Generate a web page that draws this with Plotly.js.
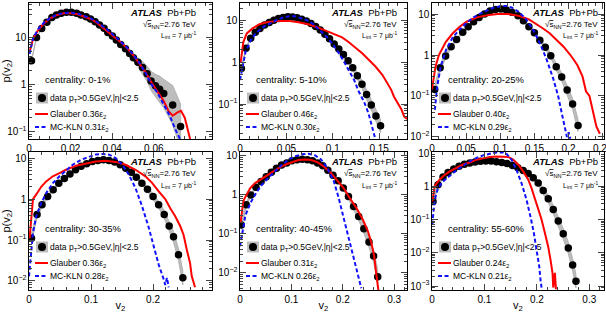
<!DOCTYPE html>
<html><head><meta charset="utf-8">
<script src="https://cdn.plot.ly/plotly-3.0.1.min.js"></script>
<style>html,body{margin:0;padding:0;background:#fff}#chart{width:606px;height:313px}</style>
</head><body><div id="chart"></div><script>
// ---------- centrality 0-1% ----------
const P1_v2 = [0.0012,0.0036,0.0061,0.0086,0.011,0.0132,0.0155,0.018,0.0204,0.0229,0.025,0.0275,0.0296,0.0318,0.0339,0.0361,0.0379,0.0401,0.042,0.0441,0.0464,0.0484,0.0502,0.0524,0.0546,0.0568,0.0587,0.0608,0.0628,0.0648,0.0691,0.0729];
const P1_p  = [3.2,10,15.5,21,26.5,30,32.5,34,34,32.7,30,27.5,24.7,21.6,18.4,15.6,12.8,10.7,8.8,7.1,5.8,4.6,3.7,3.0,2.3,1.7,1.2,0.95,0.8,0.65,0.37,0.13];
const P1_err = [0.02,0.02,0.02,0.02,0.02,0.02,0.02,0.02,0.02,0.02,0.02,0.02,0.02,0.02,0.02,0.02,0.02,0.02,0.03,0.05,0.08,0.12,0.18,0.25,0.35,0.45,0.6,0.75,0.9,1.0,1.6,2.0];
const P1_glauberX = [0.0003,0.002,0.0044,0.0069,0.0102,0.0135,0.0168,0.02,0.0234,0.0267,0.03,0.0329,0.0357,0.0386,0.0414,0.0444,0.0473,0.0502,0.0531,0.056,0.059,0.0617,0.0648,0.067,0.0691,0.0714,0.0731,0.0749,0.0763,0.0775];
const P1_glauberY = [4.9,9.5,14.4,19.3,25.5,30,32.7,32.7,31,27.7,24.3,20,16,12.6,10,7.7,5.8,4.2,2.8,1.84,1.1,0.74,0.45,0.28,0.22,0.26,0.28,0.2,0.11,0.07];
const P1_klnX = [0.0003,0.002,0.0044,0.0069,0.0102,0.0135,0.0168,0.02,0.0234,0.0267,0.03,0.0329,0.0357,0.0386,0.0414,0.0444,0.0473,0.0502,0.0531,0.056,0.059,0.0617,0.0648,0.0677,0.0705,0.0727];
const P1_klnY = [4.5,9.8,15,20,26,30.5,33,33.5,32,28.5,25,21,17,13.5,10.5,8,6,4.3,2.9,1.8,1.0,0.68,0.39,0.22,0.11,0.07];

// ---------- centrality 5-10% ----------
const P2_v2 = [0.0015,0.0065,0.0115,0.0165,0.0215,0.0265,0.0315,0.0365,0.0415,0.0465,0.0515,0.0565,0.0615,0.0665,0.0715,0.0765,0.0815,0.0865,0.0915,0.0965,0.1015,0.1065,0.1115,0.1165,0.1215,0.1265,0.1315,0.1365,0.1415,0.1465,0.1515];
const P2_p  = [0.72,2.2,3.8,5.3,6.6,8.0,9.2,10.4,11.4,12.1,12.5,12.4,11.9,11.0,9.9,8.6,7.3,6.0,4.8,3.7,2.8,2.1,1.55,1.1,0.75,0.48,0.3,0.17,0.095,0.052,0.03];
const P2_err = [0.15,0.06,0.03,0.03,0.03,0.03,0.03,0.03,0.03,0.03,0.03,0.03,0.03,0.03,0.03,0.03,0.03,0.03,0.04,0.04,0.05,0.08,0.1,0.13,0.16,0.2,0.25,0.3,0.35,0.4,0.45];
const P2_glauberX = [0.0007,0.0036,0.0073,0.0135,0.021,0.03,0.041,0.052,0.063,0.0735,0.0845,0.095,0.103,0.11,0.117,0.1245,0.132,0.139,0.146,0.1536,0.159,0.163,0.166,0.17,0.174,0.177,0.18];
const P2_glauberY = [1.0,3.1,5.0,6.6,8.3,9.4,10,10,9.3,8.3,6.9,5.5,4.7,4.0,3.1,2.3,1.65,1.15,0.8,0.5,0.32,0.22,0.15,0.105,0.074,0.05,0.044];
const P2_klnX = [0,0.0025,0.006,0.0116,0.017,0.024,0.032,0.039,0.046,0.0535,0.059,0.0645,0.072,0.079,0.086,0.0936,0.1008,0.108,0.115,0.123,0.128,0.1336,0.1385,0.141,0.1435,0.146];
const P2_klnY = [0.38,0.8,1.8,3.4,5.0,6.9,8.6,10.4,12,13,13,12,10.4,8.3,6.0,4.1,2.6,1.5,0.8,0.38,0.2,0.115,0.06,0.035,0.02,0.014];

// ---------- centrality 20-25% ----------
const P3_v2 = [0.004,0.012,0.020,0.028,0.036,0.045,0.053,0.061,0.069,0.077,0.085,0.093,0.101,0.109,0.117,0.126,0.134,0.142,0.150,0.158,0.166,0.174,0.182,0.190,0.198,0.206,0.214];
const P3_p  = [0.145,0.49,0.95,1.6,2.4,3.6,4.9,6.5,8.3,10,11.8,13,13.2,12.5,11,9.1,6.9,4.9,3.5,2.3,1.55,0.96,0.52,0.29,0.14,0.064,0.019];
const P3_err = [0.25,0.2,0.15,0.1,0.08,0.05,0.04,0.03,0.03,0.03,0.03,0.03,0.03,0.03,0.03,0.03,0.04,0.05,0.06,0.08,0.12,0.15,0.2,0.25,0.3,0.35,0.4];
const P3_glauberX = [0,0.0051,0.0101,0.0203,0.0304,0.0406,0.0507,0.0659,0.0811,0.0963,0.1115,0.1268,0.142,0.1521,0.1622,0.1724,0.1825,0.1927,0.2028,0.2129,0.2205,0.2256,0.2307,0.2357,0.2408,0.2459];
const P3_glauberY = [0.145,0.52,1.0,2.1,3.4,4.9,6.5,8.3,9.4,10,10,9.1,7.4,5.9,4.5,3.4,2.4,1.6,1.0,0.57,0.3,0.13,0.1,0.046,0.018,0.012];
const P3_klnX = [0.0041,0.0076,0.0127,0.0203,0.0304,0.0406,0.0507,0.0608,0.076,0.0913,0.1014,0.109,0.1166,0.1268,0.1369,0.147,0.1572,0.1673,0.1775,0.185,0.1901,0.1952,0.1977,0.2003,0.2028];
const P3_klnY = [0.046,0.17,0.52,1.3,2.7,4.2,6.1,8.3,11.4,14.5,15.7,15.7,14.5,11.4,7.8,4.5,2.1,0.83,0.27,0.097,0.038,0.015,0.01,0.013,0.009];

// ---------- centrality 30-35% ----------
const P4_v2 = [0.004,0.013,0.021,0.03,0.039,0.048,0.057,0.066,0.075,0.084,0.093,0.102,0.111,0.12,0.129,0.138,0.147,0.156,0.165,0.173,0.182,0.191,0.2,0.209,0.218,0.226,0.233,0.241,0.248];
const P4_p  = [0.11,0.42,0.73,1.16,1.7,2.45,3.2,4.1,5.2,6.3,7.3,8.3,8.8,9.1,8.8,8.0,6.9,5.7,4.5,3.4,2.45,1.75,1.16,0.73,0.42,0.22,0.12,0.044,0.012];
const P4_err = [0.3,0.2,0.15,0.1,0.07,0.05,0.04,0.03,0.03,0.03,0.03,0.03,0.03,0.03,0.03,0.03,0.04,0.05,0.06,0.08,0.1,0.13,0.16,0.2,0.25,0.3,0.35,0.4,0.5];
const P4_glauberX = [0.001,0.0037,0.0064,0.0117,0.0197,0.0277,0.0384,0.0491,0.0597,0.0757,0.0917,0.1077,0.1237,0.1397,0.1557,0.1717,0.1877,0.1984,0.2091,0.2197,0.2277,0.2357,0.2437,0.2491,0.2544,0.2597,0.2624,0.2651,0.2677];
const P4_glauberY = [0.11,0.38,1.0,1.3,2.0,2.7,3.6,4.3,5.2,6.5,7.5,8.3,8.6,8.1,6.9,5.2,3.6,2.5,1.55,1.0,0.6,0.38,0.22,0.135,0.058,0.027,0.013,0.009,0.007];
const P4_klnX = [0,0.0021,0.0064,0.0117,0.0197,0.0277,0.0384,0.0491,0.0597,0.0704,0.0837,0.0971,0.1077,0.1184,0.1291,0.1397,0.1504,0.1611,0.1717,0.1824,0.1931,0.2011,0.2091,0.2171,0.2197,0.2224,0.2251];
const P4_klnY = [0.013,0.033,0.15,0.38,0.8,1.4,2.45,3.6,5.0,6.9,9.1,11,12.3,12.7,12.2,10,6.9,3.9,1.85,0.66,0.2,0.07,0.025,0.011,0.008,0.012,0.007];

// ---------- centrality 40-45% ----------
const P5_v2 = [0.0025,0.012,0.021,0.031,0.041,0.051,0.061,0.071,0.081,0.091,0.101,0.111,0.121,0.131,0.141,0.151,0.161,0.171,0.181,0.191,0.201,0.211,0.221,0.231,0.241,0.251,0.26,0.268];
const P5_p  = [0.17,0.56,1.0,1.57,2.2,2.9,3.8,4.8,5.8,6.6,7.5,8.0,8.2,8.0,7.5,6.6,5.6,4.3,3.2,2.3,1.5,0.91,0.5,0.28,0.135,0.062,0.027,0.008];
const P5_err = [0.3,0.15,0.08,0.05,0.04,0.03,0.03,0.03,0.03,0.03,0.03,0.03,0.03,0.03,0.03,0.03,0.04,0.05,0.06,0.08,0.12,0.15,0.2,0.25,0.3,0.35,0.45,0.5];
const P5_glauberX = [0.0013,0.0063,0.0106,0.02,0.0294,0.0388,0.0513,0.0639,0.0764,0.0889,0.1014,0.114,0.1265,0.139,0.1515,0.1641,0.1766,0.1891,0.2016,0.2142,0.2267,0.2392,0.2486,0.2549,0.2611,0.2642,0.2674,0.2693];
const P5_glauberY = [0.2,0.68,0.9,1.5,2.0,2.4,3.0,3.9,5.0,6.0,7.0,7.8,8.1,7.8,6.8,5.2,3.7,2.4,1.5,0.8,0.46,0.23,0.12,0.065,0.027,0.012,0.0056,0.0036];
const P5_klnX = [0,0.0044,0.0106,0.02,0.0326,0.0451,0.0576,0.0701,0.0827,0.0952,0.1077,0.1202,0.1327,0.1453,0.1578,0.1703,0.1828,0.1922,0.2016,0.211,0.2204,0.2267,0.2329,0.2361];
const P5_klnY = [0.048,0.1,0.3,0.61,1.2,2.0,3.0,4.3,6.1,8.1,9.8,11,11.4,10.4,8.1,4.8,2.2,0.82,0.26,0.08,0.027,0.012,0.0056,0.004];

// ---------- centrality 55-60% ----------
const P6_v2 = [0.0019,0.0115,0.021,0.0306,0.0414,0.0516,0.0618,0.072,0.0822,0.0924,0.1025,0.1127,0.1229,0.1331,0.1433,0.1535,0.1637,0.1739,0.1834,0.193,0.2025,0.2121,0.2217,0.2312,0.2408,0.2503,0.2599,0.2682,0.2745];
const P6_p  = [0.35,1.1,1.9,2.6,3.3,4.0,4.6,5.0,5.4,5.6,5.7,5.7,5.5,5.2,4.8,4.2,3.6,3.0,2.4,1.8,1.25,0.75,0.42,0.2,0.09,0.037,0.014,0.0043,0.0014];
const P6_err = [0.3,0.15,0.08,0.05,0.04,0.03,0.03,0.03,0.03,0.03,0.03,0.03,0.03,0.03,0.04,0.05,0.06,0.08,0.1,0.15,0.2,0.25,0.3,0.35,0.4,0.45,0.5,0.55,0.6];
const P6_glauberX = [0.0006,0.0051,0.0115,0.021,0.0338,0.0465,0.0592,0.072,0.0847,0.0975,0.1102,0.1229,0.1357,0.1452,0.1548,0.1643,0.1739,0.1834,0.1898,0.1962,0.2025,0.2089,0.2153,0.2217,0.2261,0.2299,0.2312,0.2331,0.2344,0.2363];
const P6_glauberY = [0.35,1.0,1.4,2.0,2.8,3.5,4.5,5.2,6.3,6.9,7.6,7.9,7.9,7.6,6.3,4.5,2.8,1.6,0.88,0.44,0.22,0.1,0.039,0.015,0.006,0.0024,0.0009,0.0018,0.0025,0.0008];
const P6_klnX = [0.0006,0.0038,0.007,0.0115,0.021,0.0338,0.0465,0.0592,0.072,0.0847,0.0975,0.1102,0.1229,0.1357,0.142,0.1516,0.1611,0.1707,0.1803,0.1879,0.1943,0.1994,0.2045,0.207,0.2089];
const P6_klnY = [0.07,0.25,0.5,0.88,1.4,2.1,3.0,4.1,5.6,7.1,8.5,9.5,10.4,10.4,9.5,6.3,3.1,1.25,0.39,0.12,0.039,0.012,0.0039,0.0015,0.0009];

// ---------- labels ----------
const centralityLabels = ['centrality: 0-1%','centrality: 5-10%','centrality: 20-25%','centrality: 30-35%','centrality: 40-45%','centrality: 55-60%'];
const glauberCoef = ['0.36','0.46','0.40','0.36','0.31','0.24'];
const klnCoef = ['0.31','0.30','0.29','0.28','0.26','0.21'];
const xTicks = [[0,0.02,0.04,0.06],[0,0.05,0.1,0.15],[0,0.05,0.1,0.15,0.2,0.25],[0,0.1,0.2],[0,0.1,0.2,0.3],[0,0.1,0.2,0.3]];

// ---------- layout geometry (pixels) ----------
const W = 606, H = 313;
const FONT = 'Liberation Sans, Arial, Helvetica, sans-serif';
const cols = [{l:29, r:212}, {l:240, r:407}, {l:432, r:604}];
const rows = [{t:3, b:139}, {t:152, b:290}];
const xRanges = [[0,0.088],[0,0.18],[0,0.252],[0,0.295],[0,0.325],[0,0.328]];
const yRanges = [[-1.15,1.73],[-1.84,1.43],[-2.05,1.27],[-2.22,1.15],[-2.44,1.10],[-3.12,1.03]];
const xMinor = [0.005,0.01,0.01,0.02,0.02,0.02];
const textRight = [198, 399, 600];

const panels = [
  {x:P1_v2,y:P1_p,e:P1_err,gx:P1_glauberX,gy:P1_glauberY,kx:P1_klnX,ky:P1_klnY},
  {x:P2_v2,y:P2_p,e:P2_err,gx:P2_glauberX,gy:P2_glauberY,kx:P2_klnX,ky:P2_klnY},
  {x:P3_v2,y:P3_p,e:P3_err,gx:P3_glauberX,gy:P3_glauberY,kx:P3_klnX,ky:P3_klnY},
  {x:P4_v2,y:P4_p,e:P4_err,gx:P4_glauberX,gy:P4_glauberY,kx:P4_klnX,ky:P4_klnY},
  {x:P5_v2,y:P5_p,e:P5_err,gx:P5_glauberX,gy:P5_glauberY,kx:P5_klnX,ky:P5_klnY},
  {x:P6_v2,y:P6_p,e:P6_err,gx:P6_glauberX,gy:P6_glauberY,kx:P6_klnX,ky:P6_klnY}
];

const px = v => v / W;
const py = v => 1 - v / H;

const traces = [];
const layout = {
  width: W, height: H, margin: {l:0, r:0, t:0, b:0},
  paper_bgcolor: 'white', plot_bgcolor: 'white',
  showlegend: false, font: {family: FONT, color: 'black', size: 10},
  annotations: [], shapes: []
};

panels.forEach((P, i) => {
  const c = cols[i % 3], r = rows[Math.floor(i / 3)];
  const s = i === 0 ? '' : String(i + 1);
  const xa = 'x' + s, ya = 'y' + s;
  const hi = P.y.map((v, k) => v * (1 + P.e[k]));
  const lo = P.y.map((v, k) => v / (1 + P.e[k]));
  traces.push({x: P.x.concat(P.x.slice().reverse()), y: hi.concat(lo.slice().reverse()),
    xaxis: xa, yaxis: ya, mode: 'lines', fill: 'toself', fillcolor: '#bdbdbd',
    line: {color: '#a8a8a8', width: 0.8}, hoverinfo: 'skip'});
  traces.push({x: P.x, y: P.y, xaxis: xa, yaxis: ya, mode: 'markers',
    marker: {color: 'black', size: 7.5}});
  traces.push({x: P.gx, y: P.gy, xaxis: xa, yaxis: ya, mode: 'lines',
    line: {color: '#ff0000', width: 2}});
  traces.push({x: P.kx, y: P.ky, xaxis: xa, yaxis: ya, mode: 'lines',
    line: {color: '#1010ff', width: 2, dash: '4px,2.5px'}});

  layout['xaxis' + s] = {
    domain: [px(c.l), px(c.r)], anchor: ya, range: xRanges[i],
    tickmode: 'array', tickvals: xTicks[i], ticks: 'inside', ticklen: 6, tickwidth: 1,
    ticklabeloverflow: 'allow',
    showline: true, linecolor: 'black', linewidth: 1, mirror: 'allticks',
    showgrid: false, zeroline: false, tickfont: {size: 10, family: FONT},
    minor: {ticks: 'inside', ticklen: 3, dtick: xMinor[i], tick0: 0, showgrid: false},
    title: i >= 3 ? {text: 'v<sub>2</sub>', font: {size: 11, family: FONT}, standoff: 4} : {text: ''}
  };
  layout['yaxis' + s] = {
    domain: [py(r.b), py(r.t)], anchor: xa, type: 'log', range: yRanges[i],
    tickmode: 'linear', tick0: 0, dtick: 1, exponentformat: 'power',
    ticks: 'inside', ticklen: 6, tickwidth: 1,
    showline: true, linecolor: 'black', linewidth: 1, mirror: 'allticks',
    showgrid: false, zeroline: false, tickfont: {size: 8, family: FONT},
    minor: {ticks: 'inside', ticklen: 3, dtick: 'D1', showgrid: false},
    title: (i % 3 === 0) ? {text: 'p(v<sub>2</sub>)', font: {size: 11, family: FONT}, standoff: 2} : {text: ''}
  };

  const tr = textRight[i % 3];
  const ty = r.t;
  layout.annotations.push({xref:'paper', yref:'paper', x: px(tr), y: py(ty + 10), xanchor:'right', yanchor:'middle',
    text: '<b><i>ATLAS</i></b>  Pb+Pb', showarrow:false, font:{size:9.5, family: FONT}});
  layout.annotations.push({xref:'paper', yref:'paper', x: px(tr), y: py(ty + 22), xanchor:'right', yanchor:'middle',
    text: '√<span style="text-decoration:overline">s</span><sub>NN</sub>=2.76 TeV', showarrow:false, font:{size:8, family: FONT}});
  layout.annotations.push({xref:'paper', yref:'paper', x: px(tr), y: py(ty + 33), xanchor:'right', yanchor:'middle',
    text: 'L<sub>int</sub> = 7 μb<sup>-1</sup>', showarrow:false, font:{size:7, family: FONT}});

  const baseY = r.t;
  const yC = baseY + 76, yD = baseY + 95, yG = baseY + 111, yK = baseY + 124;
  layout.annotations.push({xref:'paper', yref:'paper', x: px(c.l + 14), y: py(yC), xanchor:'left', yanchor:'middle',
    text: centralityLabels[i], showarrow:false, font:{size:9.5, family: FONT}});
  layout.annotations.push({xref:'paper', yref:'paper', x: px(c.l + 19), y: py(yD), xanchor:'left', yanchor:'middle',
    text: 'data p<sub>T</sub>&gt;0.5GeV,|η|&lt;2.5', showarrow:false, font:{size:8.5, family: FONT}});
  layout.annotations.push({xref:'paper', yref:'paper', x: px(c.l + 19), y: py(yG), xanchor:'left', yanchor:'middle',
    text: 'Glauber ' + glauberCoef[i] + 'ε<sub>2</sub>', showarrow:false, font:{size:8.5, family: FONT}});
  layout.annotations.push({xref:'paper', yref:'paper', x: px(c.l + 19), y: py(yK), xanchor:'left', yanchor:'middle',
    text: 'MC-KLN ' + klnCoef[i] + 'ε<sub>2</sub>', showarrow:false, font:{size:8.5, family: FONT}});
  const sx = c.l + 13;
  layout.shapes.push({type:'rect', xref:'paper', yref:'paper', x0: px(sx - 6), x1: px(sx + 6), y0: py(yD + 5.5), y1: py(yD - 5.5),
    fillcolor:'#bdbdbd', line:{width:0}});
  layout.shapes.push({type:'circle', xref:'paper', yref:'paper', x0: px(sx - 4), x1: px(sx + 4), y0: py(yD + 4), y1: py(yD - 4),
    fillcolor:'black', line:{width:0}});
  layout.shapes.push({type:'line', xref:'paper', yref:'paper', x0: px(sx - 7), x1: px(sx + 6), y0: py(yG), y1: py(yG),
    line:{color:'#ff0000', width:2}});
  layout.shapes.push({type:'line', xref:'paper', yref:'paper', x0: px(sx - 7), x1: px(sx + 6), y0: py(yK), y1: py(yK),
    line:{color:'#1010ff', width:2, dash:'4px,2.5px'}});
});

Plotly.newPlot('chart', traces, layout, {displayModeBar: false, staticPlot: true});
</script></body></html>
